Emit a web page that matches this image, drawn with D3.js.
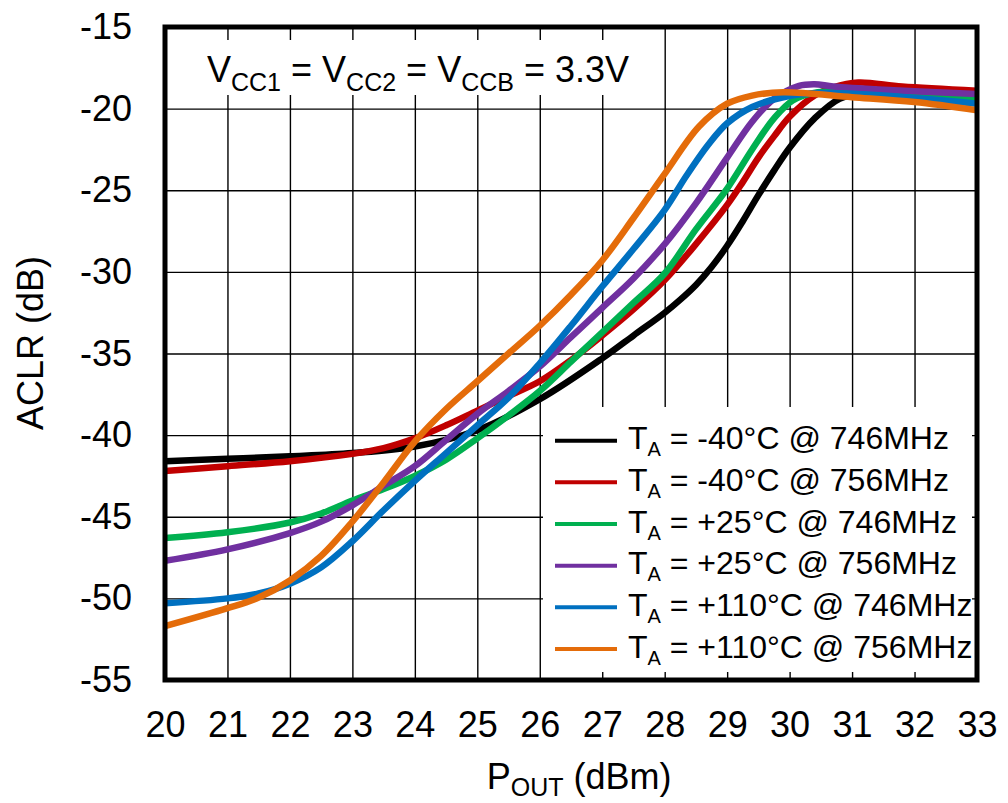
<!DOCTYPE html>
<html>
<head>
<meta charset="utf-8">
<script src="https://cdn.jsdelivr.net/npm/d3@7"></script>
<style>
  html, body { margin: 0; padding: 0; background: #fff; }
  svg { display: block; }
  text { font-family: "Liberation Sans", Arial, sans-serif; fill: #000; }
</style>
</head>
<body>
<svg id="chart" width="1008" height="803"></svg>
<script>
// ---------- DATA ----------
const xTicks = [20,21,22,23,24,25,26,27,28,29,30,31,32,33];
const yTicks = [-15,-20,-25,-30,-35,-40,-45,-50,-55];

const seriesNames = [
  ["T", "A", " = -40°C @ 746MHz"],
  ["T", "A", " = -40°C @ 756MHz"],
  ["T", "A", " = +25°C @ 746MHz"],
  ["T", "A", " = +25°C @ 756MHz"],
  ["T", "A", " = +110°C @ 746MHz"],
  ["T", "A", " = +110°C @ 756MHz"]
];
const seriesColors = ["#000000", "#C00000", "#00B050", "#7030A0", "#0070C0", "#E46C0A"];

const m40_746_x = [20,21,22,23,24,25,26,27,27.5,28,28.25,28.5,28.75,29,29.25,29.5,29.75,30,30.4,30.8,31.3,32,33];
const m40_746_y = [-41.6,-41.45,-41.3,-41.1,-40.7,-39.7,-37.8,-35.3,-33.9,-32.5,-31.7,-30.8,-29.7,-28.4,-26.9,-25.3,-23.8,-22.4,-20.6,-19.4,-19.0,-18.9,-19.0];

const m40_756_x = [20,21,22,23,23.5,24,24.5,25,25.5,26,26.5,27,27.5,28,28.5,29,29.25,29.5,29.75,30,30.4,30.7,31.1,31.8,33];
const m40_756_y = [-42.2,-41.9,-41.6,-41.15,-40.8,-40.2,-39.4,-38.5,-37.6,-36.7,-35.4,-33.9,-32.3,-30.5,-28.3,-25.9,-24.5,-23.0,-21.7,-20.5,-19.2,-18.7,-18.4,-18.65,-18.9];

const p25_746_x = [20,21,22,22.5,23,23.5,24,24.5,25,25.5,26,26.5,27,27.5,28,28.5,29,29.4,29.75,30.05,30.45,31,32,33];
const p25_746_y = [-46.3,-45.95,-45.35,-44.8,-44.0,-43.3,-42.5,-41.5,-40.2,-38.8,-37.3,-35.5,-33.7,-31.9,-30.1,-27.4,-24.9,-22.5,-20.6,-19.5,-19.0,-19.0,-19.2,-19.4];

const p25_756_x = [20,21,22,22.5,23,23.5,24,24.5,25,25.5,26,26.5,27,27.5,28,28.5,29,29.4,29.75,30.15,30.4,30.7,31.5,33];
const p25_756_y = [-47.7,-47.0,-46.0,-45.3,-44.3,-43.1,-41.9,-40.3,-38.7,-37.3,-35.8,-34.0,-32.2,-30.4,-28.3,-25.8,-23.0,-20.8,-19.4,-18.6,-18.5,-18.65,-18.85,-19.1];

const p110_746_x = [20,21,21.5,22,22.5,23,23.5,24,24.5,25,25.5,26,26.5,27,27.5,28,28.35,28.7,29,29.4,29.9,30.5,31.5,33];
const p110_746_y = [-50.3,-50.0,-49.7,-49.1,-48.1,-46.5,-44.6,-42.8,-41.1,-39.4,-37.7,-35.6,-33.3,-30.9,-28.6,-26.2,-24.1,-22.2,-20.9,-19.9,-19.3,-19.05,-19.2,-19.7];

const p110_756_x = [20,21,21.5,22,22.5,23,23.5,24,24.5,25,25.5,26,26.5,27,27.5,28,28.55,29,29.4,29.9,31,32,33];
const p110_756_y = [-51.7,-50.6,-49.95,-48.9,-47.4,-45.3,-42.9,-40.4,-38.4,-36.7,-35.0,-33.3,-31.4,-29.3,-26.7,-24.0,-21.1,-19.7,-19.2,-19.0,-19.3,-19.6,-20.1];

const seriesX = [m40_746_x, m40_756_x, p25_746_x, p25_756_x, p110_746_x, p110_756_x];
const seriesY = [m40_746_y, m40_756_y, p25_746_y, p25_756_y, p110_746_y, p110_756_y];

// ---------- LAYOUT ----------
const L = 165, R = 977, T = 27, B = 680;
const svg = d3.select("#chart");

const x = d3.scaleLinear().domain([20, 33]).range([L, R]);
const y = d3.scaleLinear().domain([-55, -15]).range([B, T]);

// gridlines
svg.append("g")
  .attr("transform", `translate(0,${B})`)
  .call(d3.axisBottom(x).tickValues(xTicks).tickSize(-(B - T)).tickFormat(""))
  .call(g => g.select(".domain").remove())
  .call(g => g.selectAll("line").attr("stroke", "#000").attr("stroke-width", 1.4));
svg.append("g")
  .attr("transform", `translate(${L},0)`)
  .call(d3.axisLeft(y).tickValues(yTicks).tickSize(-(R - L)).tickFormat(""))
  .call(g => g.select(".domain").remove())
  .call(g => g.selectAll("line").attr("stroke", "#000").attr("stroke-width", 1.4));

// title box (white background)
svg.append("rect").attr("x", L + 3).attr("y", 40).attr("width", 470).attr("height", 55).attr("fill", "#fff");
// legend box
svg.append("rect").attr("x", 543).attr("y", 407).attr("width", 429).attr("height", 265).attr("fill", "#fff");

// clip
svg.append("clipPath").attr("id", "clip")
  .append("rect").attr("x", L).attr("y", T).attr("width", R - L).attr("height", B - T);

const line = d3.line().x(d => x(d[0])).y(d => y(d[1])).curve(d3.curveCatmullRom.alpha(0.5));

const linesG = svg.append("g").attr("clip-path", "url(#clip)");
seriesX.forEach((xs, i) => {
  const pts = xs.map((v, j) => [v, seriesY[i][j]]);
  linesG.append("path")
    .attr("d", line(pts))
    .attr("fill", "none")
    .attr("stroke", seriesColors[i])
    .attr("stroke-width", 6.5)
    .attr("stroke-linejoin", "round")
    .attr("stroke-linecap", "butt");
});

// frame
svg.append("rect").attr("x", L).attr("y", T).attr("width", R - L).attr("height", B - T)
  .attr("fill", "none").attr("stroke", "#000").attr("stroke-width", 5);

// axis labels
svg.append("g")
  .attr("transform", `translate(${L},0)`)
  .call(d3.axisLeft(y).tickValues(yTicks).tickSize(0).tickPadding(33).tickFormat(d => String(d)))
  .call(g => g.select(".domain").remove())
  .call(g => g.selectAll("text").style("font-size", "36px").attr("font-family", null));
svg.append("g")
  .attr("transform", `translate(0,${B})`)
  .call(d3.axisBottom(x).tickValues(xTicks).tickSize(0).tickPadding(31).tickFormat(d => String(d)))
  .call(g => g.select(".domain").remove())
  .call(g => g.selectAll("text").style("font-size", "36px").attr("font-family", null));

// axis titles
const xt = svg.append("text").attr("x", 486.7).attr("y", 789).style("font-size", "36px");
xt.append("tspan").text("P");
xt.append("tspan").attr("dy", 7).style("font-size", "25px").text("OUT");
xt.append("tspan").attr("dy", -7).text(" (dBm)");

svg.append("text")
  .attr("transform", "translate(42.5,343) rotate(-90)")
  .attr("text-anchor", "middle")
  .style("font-size", "36px")
  .text("ACLR (dB)");

// title
const tt = svg.append("text").attr("x", 207).attr("y", 82).style("font-size", "36px");
[["V","CC1"," = "],["V","CC2"," = "],["V","CCB"," = 3.3V"]].forEach(p => {
  tt.append("tspan").text(p[0]);
  tt.append("tspan").attr("dy", 9).style("font-size", "25px").text(p[1]);
  tt.append("tspan").attr("dy", -9).text(p[2]);
});

// legend
const lg = svg.append("g");
seriesNames.forEach((n, i) => {
  const by = 449.3 + i * 41.65;
  lg.append("line").attr("x1", 555).attr("x2", 617).attr("y1", by - 8.6).attr("y2", by - 8.6)
    .attr("stroke", seriesColors[i]).attr("stroke-width", 4);
  const t = lg.append("text").attr("x", 628).attr("y", by).style("font-size", "32px");
  t.append("tspan").text(n[0]);
  t.append("tspan").attr("dy", 7).style("font-size", "20px").text(n[1]);
  t.append("tspan").attr("dy", -7).text(n[2]);
});
</script>
</body>
</html>
